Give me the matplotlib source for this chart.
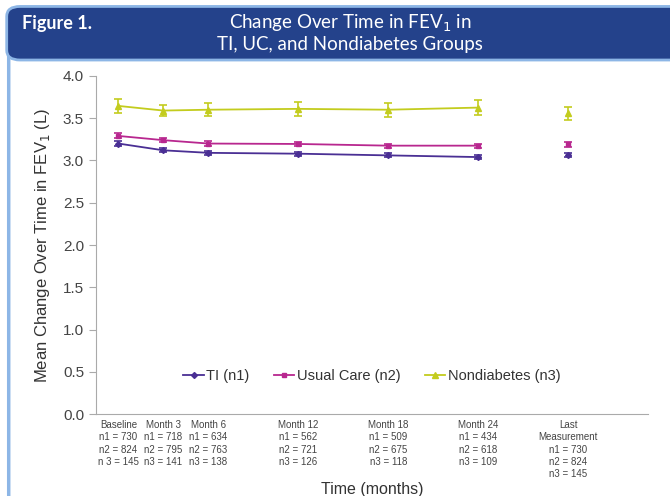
import matplotlib.pyplot as plt
from matplotlib.patches import FancyBboxPatch
from matplotlib.lines import Line2D

plt.rcParams['font.family'] = ['Liberation Sans', 'DejaVu Sans']

# Time points (months); "Last Measurement" placed at 30
months = [0, 3, 6, 12, 18, 24]
last_x = 30
tick_labels = [
    "Baseline\nn1 = 730\nn2 = 824\nn 3 = 145",
    "Month 3\nn1 = 718\nn2 = 795\nn3 = 141",
    "Month 6\nn1 = 634\nn2 = 763\nn3 = 138",
    "Month 12\nn1 = 562\nn2 = 721\nn3 = 126",
    "Month 18\nn1 = 509\nn2 = 675\nn3 = 118",
    "Month 24\nn1 = 434\nn2 = 618\nn3 = 109",
    "Last\nMeasurement\nn1 = 730\nn2 = 824\nn3 = 145",
]

ti = [3.20, 3.12, 3.09, 3.08, 3.06, 3.04]
ti_last = 3.06
ti_err = [0.025, 0.025, 0.025, 0.025, 0.025, 0.025]
ti_last_err = 0.025

uc = [3.29, 3.24, 3.20, 3.195, 3.175, 3.175]
uc_last = 3.19
uc_err = [0.03, 0.025, 0.025, 0.025, 0.025, 0.025]
uc_last_err = 0.025

nd = [3.645, 3.59, 3.60, 3.61, 3.60, 3.625]
nd_last = 3.56
nd_err = [0.08, 0.07, 0.08, 0.083, 0.085, 0.087]
nd_last_err = 0.077

c_ti = '#4a2f94'
c_uc = '#b8278f'
c_nd = '#c3cc1e'

fig = plt.figure(figsize=(6.7, 4.96), dpi=100)

# frame and header band
frame = FancyBboxPatch((0.013, -0.2), 1.2, 1.15, boxstyle="round,pad=0,rounding_size=0.02",
                       transform=fig.transFigure, facecolor='white', edgecolor='#8db6e6',
                       linewidth=2.5, zorder=-2)
fig.patches.append(frame)
header = FancyBboxPatch((0.01, 0.879), 1.2, 0.108, boxstyle="round,pad=0,rounding_size=0.02",
                        transform=fig.transFigure, facecolor='#24428b', edgecolor='#8db6e6',
                        linewidth=2, zorder=-1)
fig.patches.append(header)
fig.text(0.033, 0.952, "Figure 1.", color='white', fontsize=13, fontweight='bold',
         family=['Lato', 'DejaVu Sans'], va='center', ha='left')
fig.text(0.523, 0.934, "Change Over Time in FEV$_1$ in\nTI, UC, and Nondiabetes Groups",
         color='white', fontsize=13.5, family=['Lato', 'DejaVu Sans'], va='center', ha='center',
         linespacing=1.1)

ax = fig.add_axes([0.143, 0.165, 0.824, 0.682])
ax.set_zorder(2)
ax.patch.set_alpha(0)

for vals, last, err, last_err, col, mk, ms in [
    (ti, ti_last, ti_err, ti_last_err, c_ti, 'D', 3),
    (uc, uc_last, uc_err, uc_last_err, c_uc, 's', 3.5),
    (nd, nd_last, nd_err, nd_last_err, c_nd, '^', 4),
]:
    ax.errorbar(months, vals, yerr=err, color=col, marker=mk, markersize=ms,
                linewidth=1.3, capsize=3, elinewidth=1.2, capthick=1.2)
    ax.errorbar([last_x], [last], yerr=last_err, color=col, marker=mk, markersize=ms,
                linestyle='none', capsize=3, elinewidth=1.2, capthick=1.2)

handles = [
    Line2D([], [], color=c_ti, marker='D', markersize=3, linewidth=1.3, label='TI (n1)'),
    Line2D([], [], color=c_uc, marker='s', markersize=3, linewidth=1.3, label='Usual Care (n2)'),
    Line2D([], [], color=c_nd, marker='^', markersize=4, linewidth=1.3, label='Nondiabetes (n3)'),
]
ax.legend(handles=handles, loc='center', bbox_to_anchor=(0.5, 0.113), ncol=3,
          frameon=False, fontsize=10.5, handlelength=1.4, handletextpad=0.15,
          columnspacing=1.7, labelcolor='#333333')

ax.set_xlim(-1.5, 35.3)
ax.set_ylim(0, 4)
ax.set_yticks([0, 0.5, 1.0, 1.5, 2.0, 2.5, 3.0, 3.5, 4.0])
ax.set_yticklabels([f'{v:.1f}' for v in ax.get_yticks()])
ax.set_xticks(months + [last_x])
ax.set_xticklabels(tick_labels, fontsize=7, color='#444444', linespacing=1.3, va='top')
ax.tick_params(axis='x', length=0, pad=4)
ax.tick_params(axis='y', labelsize=11, colors='#444444', length=5, color='#aaaaaa')
for s in ['top', 'right']:
    ax.spines[s].set_visible(False)
for s in ['left', 'bottom']:
    ax.spines[s].set_color('#aaaaaa')

ax.set_ylabel("Mean Change Over Time in FEV$_1$ (L)", fontsize=12, color='#333333', labelpad=8)
ax.set_xlabel("Time (months)", fontsize=11.5, color='#333333', labelpad=2)

fig.savefig('out.png', dpi=100)
